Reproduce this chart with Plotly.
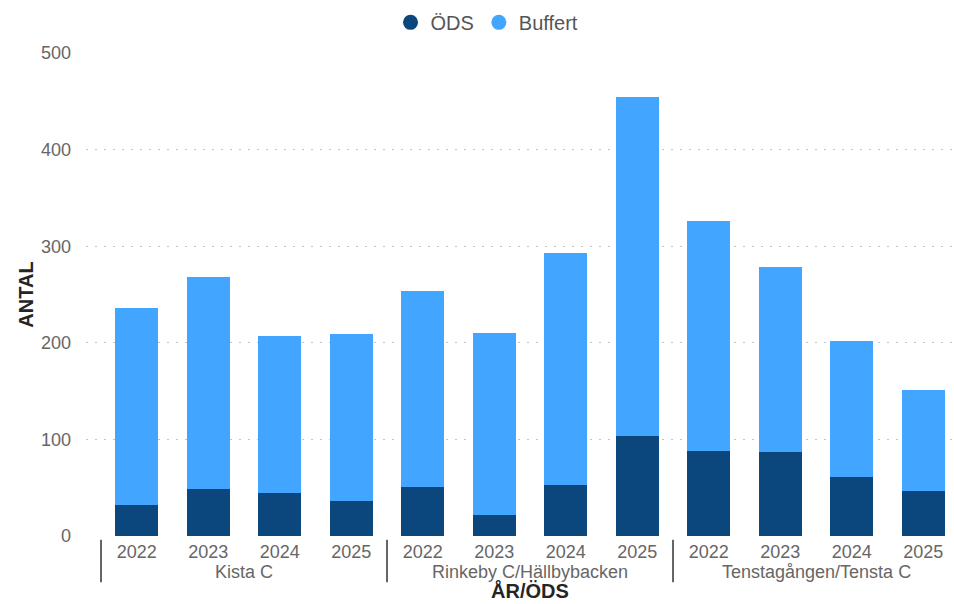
import plotly.graph_objects as go

groups = ["Kista C", "Rinkeby C/Hällbybacken", "Tenstagången/Tensta C"]
years = ["2022", "2023", "2024", "2025"]
ods = [32, 49, 45, 36, 51, 22, 53, 104, 88, 87, 61, 47]
total = [236, 268, 207, 209, 254, 210, 293, 454, 326, 278, 202, 151]
buffert = [t - o for t, o in zip(total, ods)]

x_labels = [y for g in groups for y in years]
xpos = list(range(len(x_labels)))

DARK = "#0B467C"
LIGHT = "#42A5FF"
FONT = "Arial, Liberation Sans, sans-serif"
fig = go.Figure()
fig.add_trace(go.Bar(x=xpos, y=ods, name="ÖDS", marker_color=DARK, width=0.6,
                     marker_line_width=0, showlegend=False))
fig.add_trace(go.Bar(x=xpos, y=buffert, name="Buffert", marker_color=LIGHT, width=0.6,
                     marker_line_width=0, showlegend=False))
# legend entries with circular markers
for name, col in [("ÖDS", DARK), ("Buffert", LIGHT)]:
    fig.add_trace(go.Scatter(x=[None], y=[None], mode="markers", name=name,
                             marker=dict(symbol="circle", size=15, color=col)))

fig.update_layout(
    barmode="stack",
    width=954, height=604,
    margin=dict(l=86, r=0, t=53, b=68, autoexpand=False),
    plot_bgcolor="white", paper_bgcolor="white",
    font=dict(family=FONT, size=18, color="#666666"),
    legend=dict(orientation="h", x=0.462, xanchor="center", y=0.963, yanchor="middle",
                yref="container", font=dict(size=20, color="#555555"),
                itemwidth=30, traceorder="normal"),
)
fig.update_xaxes(
    range=[-0.71, 11.43], tickmode="array", tickvals=xpos, ticktext=x_labels,
    showgrid=False, zeroline=False, showline=False, ticks="", automargin=False,
    tickfont=dict(size=18, color="#666666"), ticklabelstandoff=3,
)
fig.update_yaxes(
    range=[0, 500], tickvals=[0, 100, 200, 300, 400, 500], automargin=False,
    showgrid=True, gridcolor="#C4C4C4", griddash="2px,7px", gridwidth=1.2,
    zeroline=False, showline=False, tickfont=dict(size=18, color="#666666"),
    ticklabelstandoff=14,
    title=dict(text="<b>ANTAL</b>", font=dict(size=20, color="#252525"), standoff=1),
)

# group labels and separators
for i, g in enumerate(groups):
    center = i * 4 + 1.5
    fig.add_annotation(x=center, y=-0.075, xref="x", yref="paper", text=g,
                       showarrow=False, font=dict(size=18, color="#666666"),
                       yanchor="middle")
for b in [-0.5, 3.5, 7.5]:
    fig.add_shape(type="line", x0=b, x1=b, xref="x", y0=-0.008, y1=-0.096, yref="paper",
                  line=dict(color="#333333", width=1.5))
fig.add_annotation(x=5.5, y=-0.1408, xref="x", yref="paper", text="<b>ÅR/ÖDS</b>",
                   showarrow=False, font=dict(size=20, color="#252525"), yanchor="bottom")

fig.write_html("out.html", config={"displayModeBar": False},
               post_script="document.body.style.margin='0';")
